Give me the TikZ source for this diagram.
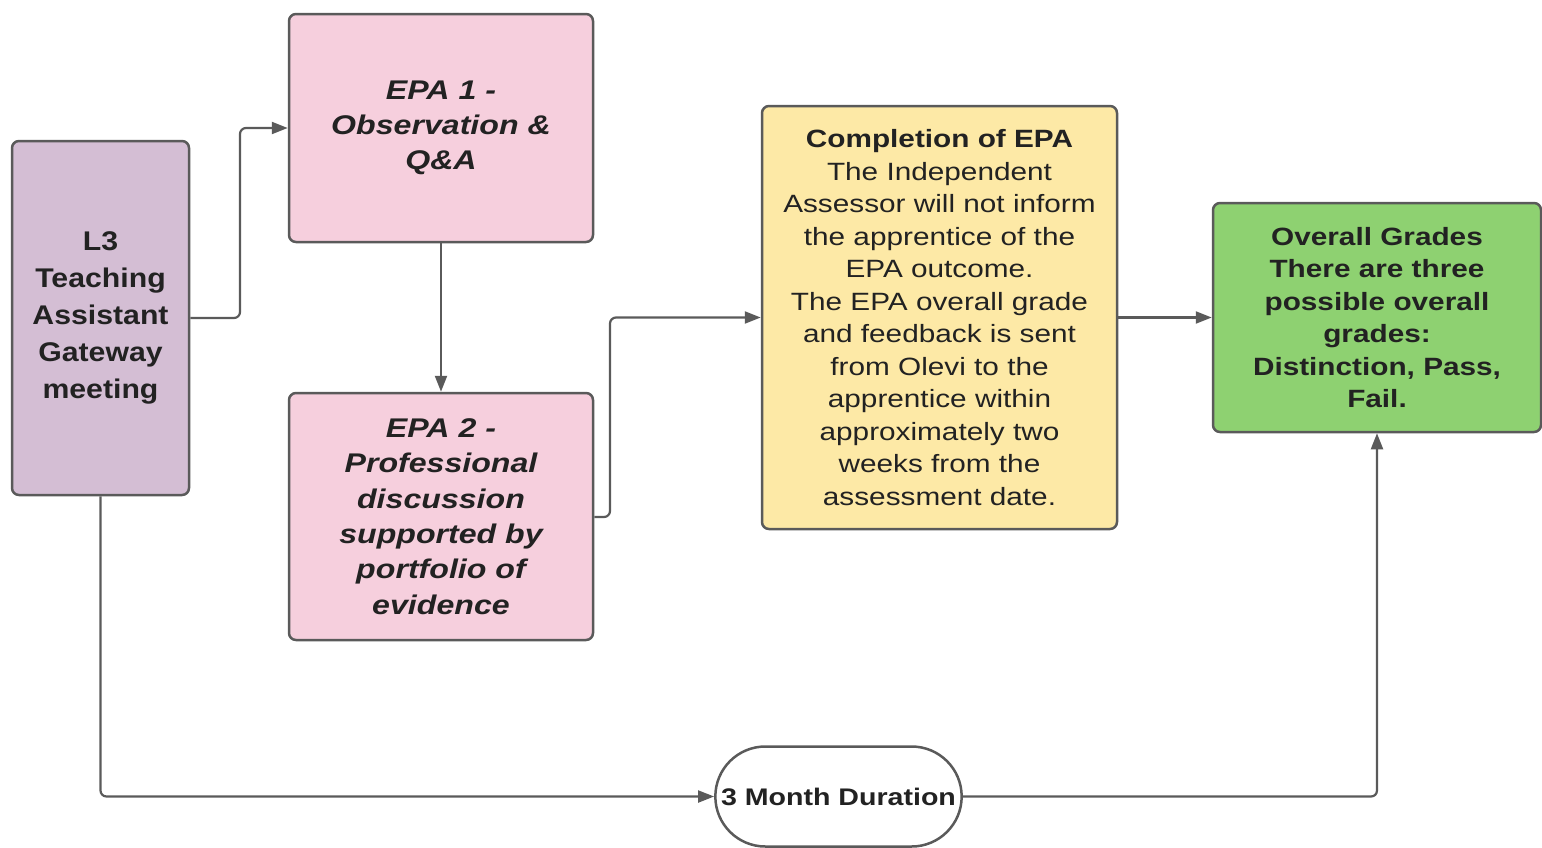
\documentclass[tikz,border=0pt]{standalone}
\usepackage{fontspec}
\setmainfont[FakeStretch=1.19]{Liberation Sans}
\newfontfamily\lthree[FakeStretch=1.12]{Liberation Sans}
\usetikzlibrary{arrows.meta,shapes.misc}
\definecolor{lav}{RGB}{212,190,212}
\definecolor{pnk}{RGB}{246,207,221}
\definecolor{yel}{RGB}{253,233,166}
\definecolor{grn}{RGB}{142,209,113}
\definecolor{edge}{RGB}{90,90,90}
\definecolor{txt}{RGB}{34,34,34}
\tikzset{
  box/.style={draw=edge, line width=2.5pt, rounded corners=7pt, inner sep=0pt, text=txt, align=center},
  conn/.style={draw=edge, line width=2.2pt, rounded corners=6pt, -{Triangle[length=16pt,width=12pt]}},
}
\begin{document}
\begin{tikzpicture}[x=1pt,y=-1pt]
\useasboundingbox (0,0) rectangle (1542,847);
\node[box, fill=lav, minimum width=177pt, minimum height=354pt, font=\lthree\fontsize{27}{37}\selectfont\bfseries] (l3) at (100.5,318) {L3\\Teaching\\Assistant\\Gateway\\meeting};
\node[box, fill=pnk, minimum width=304pt, minimum height=228pt, font=\fontsize{27}{35}\selectfont\bfseries\itshape] (e1) at (441,128) {EPA 1 -\\Observation \&\\Q\&A};
\node[box, fill=pnk, minimum width=304pt, minimum height=247pt, font=\fontsize{27}{35.3}\selectfont\bfseries\itshape] (e2) at (441,516.5) {EPA 2 -\\Professional\\discussion\\supported by\\portfolio of\\evidence};
\node[box, fill=yel, minimum width=355pt, minimum height=423pt, font=\fontsize{25}{32.5}\selectfont] (c) at (939.5,317.5) {\textbf{Completion of EPA}\\The Independent\\Assessor will not inform\\the apprentice of the\\EPA outcome.\\The EPA overall grade\\and feedback is sent\\from Olevi to the\\apprentice within\\approximately two\\weeks from the\\assessment date.};
\node[box, fill=grn, minimum width=328pt, minimum height=229pt, font=\fontsize{25}{32.5}\selectfont\bfseries] (g) at (1377,317.5) {Overall Grades\\There are three\\possible overall\\grades:\\Distinction, Pass,\\Fail.};
\node[draw=edge, line width=2.5pt, rounded rectangle, fill=white, minimum width=253pt, minimum height=100pt, text=txt, font=\fontsize{24}{30}\selectfont\bfseries] (d) at (838.5,796.5) {3 Month Duration};
\draw[conn] (l3.east) -- (240,318) |- (e1.west);
\draw[conn] (e1.south) -- (e2.north);
\draw[conn] (e2.east |- 0,517) -- (610,517) |- (c.west);
\draw[conn] (c.east) -- (g.west);
\draw[conn] (l3.south) |- (d.west);
\draw[conn] (d.east) -| (g.south);
\end{tikzpicture}
\end{document}
